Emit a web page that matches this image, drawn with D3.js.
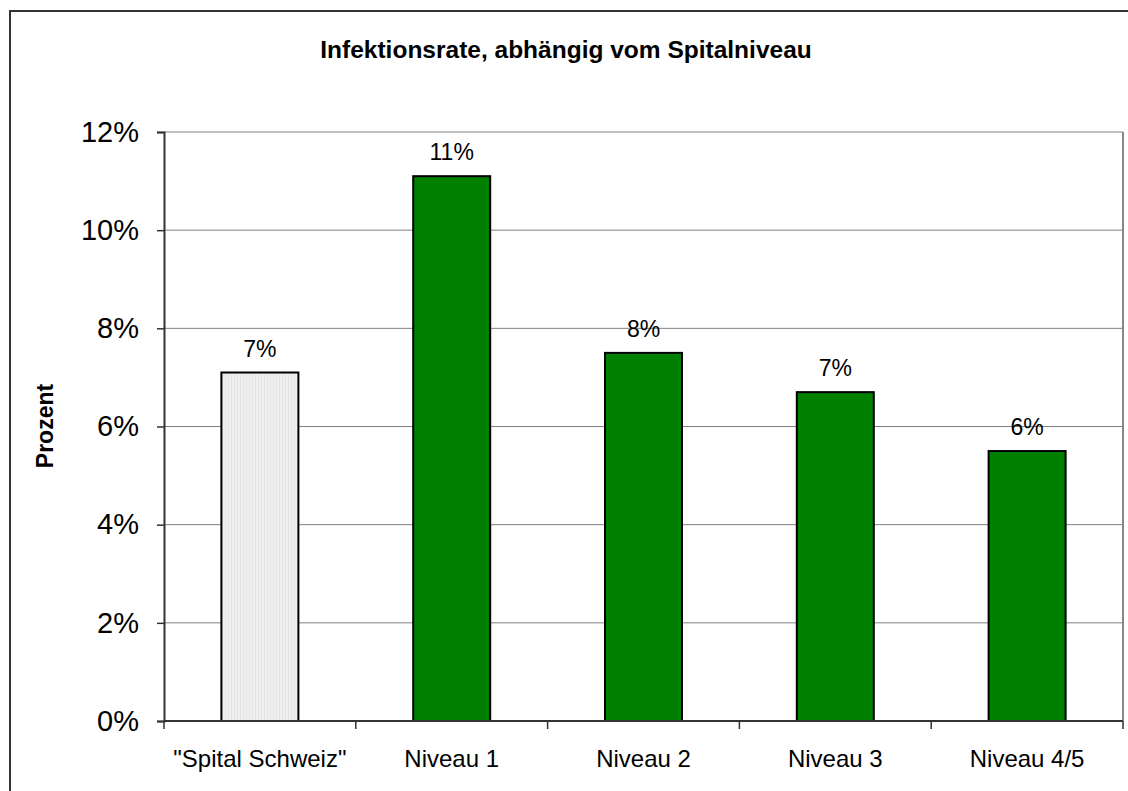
<!DOCTYPE html>
<html><head><meta charset="utf-8">
<script src="https://cdn.jsdelivr.net/npm/d3@7"></script>
<style>body{margin:0;background:#fff}svg{display:block}text{font-family:"Liberation Sans",Arial,sans-serif}</style>
</head><body>
<svg id="c" width="1128" height="791"></svg>
<script>
const categories = ['"Spital Schweiz"', "Niveau 1", "Niveau 2", "Niveau 3", "Niveau 4/5"];
const values = [7.1, 11.1, 7.5, 6.7, 5.5];
const valueLabels = ["7%", "11%", "8%", "7%", "6%"];
const yTicks = [0, 2, 4, 6, 8, 10, 12];
const title = "Infektionsrate, abhängig vom Spitalniveau";
const yTitle = "Prozent";

const svg = d3.select("#c");
const L = 164, R = 1123, T = 132, B = 721;

const defs = svg.append("defs");
const pat = defs.append("pattern").attr("id","stripe").attr("patternUnits","userSpaceOnUse").attr("width",3).attr("height",4);
pat.append("rect").attr("width",3).attr("height",4).attr("fill","#f0f0f0");
pat.append("rect").attr("x",0).attr("width",1).attr("height",4).attr("fill","#e2e2e2");

svg.append("rect").attr("x",10).attr("y",11).attr("width",1140).attr("height",800)
  .attr("fill","none").attr("stroke","#333").attr("stroke-width",2);

svg.append("text").attr("x",566).attr("y",58).attr("text-anchor","middle")
  .attr("font-weight","bold").attr("font-size","24.5px").text(title);

const x = d3.scaleBand().domain(categories).range([L,R]).paddingInner(0).paddingOuter(0);
const y = d3.scaleLinear().domain([0,12]).range([B,T]);

svg.append("g").selectAll("line").data(yTicks.filter(d=>d>0)).join("line")
  .attr("x1",L).attr("x2",R).attr("y1",d=>y(d)).attr("y2",d=>y(d))
  .attr("stroke","#808080").attr("stroke-width",1);
svg.append("line").attr("x1",R).attr("x2",R).attr("y1",T).attr("y2",B).attr("stroke","#888").attr("stroke-width",2);

const ya = svg.append("g").attr("transform",`translate(${L},0)`)
  .call(d3.axisLeft(y).tickValues(yTicks).tickFormat(d=>d+"%").tickSize(7).tickPadding(18));
ya.select(".domain").attr("stroke","#333").attr("stroke-width",2);
ya.selectAll(".tick line").attr("stroke","#333").attr("stroke-width",1.5);
ya.selectAll(".tick text").attr("font-size","29px").attr("fill","#000").attr("font-family","Liberation Sans, Arial, sans-serif");

svg.append("g").selectAll("rect").data(values).join("rect")
  .attr("x",(d,i)=>x(categories[i])+x.bandwidth()/2-38.5)
  .attr("width",77)
  .attr("y",d=>y(d)).attr("height",d=>B-y(d))
  .attr("fill",(d,i)=>i===0?"url(#stripe)":"#008000")
  .attr("stroke","#000").attr("stroke-width",2);

const xa = svg.append("g").attr("transform",`translate(0,${B})`);
xa.append("line").attr("x1",L).attr("x2",R).attr("stroke","#333").attr("stroke-width",2);
const bounds = categories.map(c=>x(c)).concat([R]);
xa.selectAll("line.tk").data(bounds).join("line").attr("class","tk")
  .attr("x1",d=>d).attr("x2",d=>d).attr("y1",0).attr("y2",8).attr("stroke","#333").attr("stroke-width",1.5);
xa.selectAll("text").data(categories).join("text")
  .attr("x",d=>x(d)+x.bandwidth()/2).attr("y",46).attr("text-anchor","middle")
  .attr("font-size","24px").text(d=>d);

svg.append("g").selectAll("text").data(values).join("text")
  .attr("x",(d,i)=>x(categories[i])+x.bandwidth()/2).attr("y",d=>y(d)-16)
  .attr("text-anchor","middle").attr("font-size","23px").text((d,i)=>valueLabels[i]);

svg.append("text").attr("transform","translate(53,426) rotate(-90)").attr("text-anchor","middle")
  .attr("font-weight","bold").attr("font-size","23px").text(yTitle);
</script>
</body></html>
